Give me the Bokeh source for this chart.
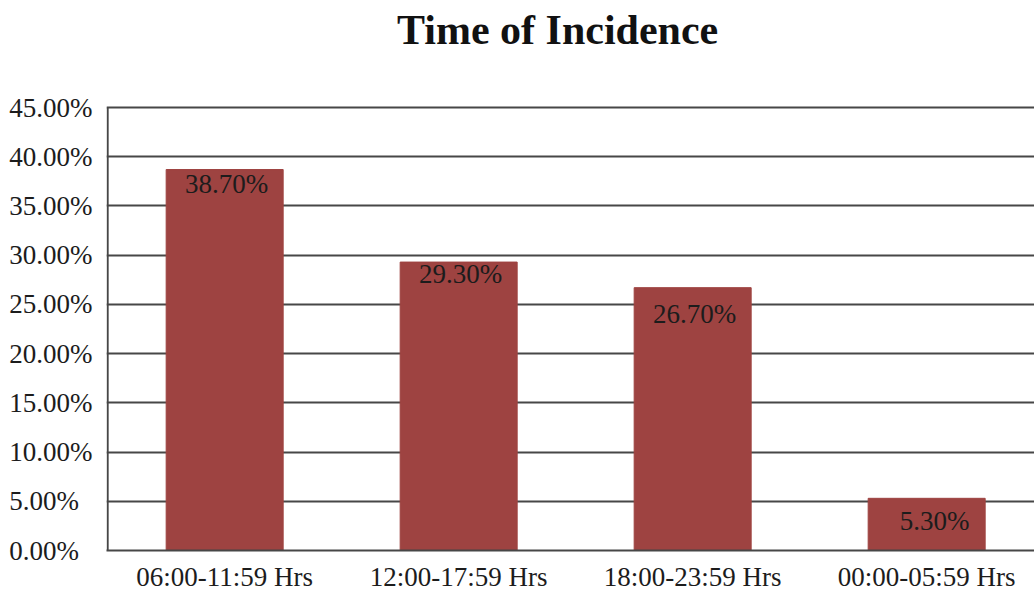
from bokeh.plotting import figure
from bokeh.models import Range1d, FixedTicker, LabelSet, Label, ColumnDataSource
from bokeh.embed import file_html
from bokeh.resources import INLINE

# ---- data ----
categories = ["06:00-11:59 Hrs", "12:00-17:59 Hrs", "18:00-23:59 Hrs", "00:00-05:59 Hrs"]
values = [38.70, 29.30, 26.70, 5.30]
y_ticks = [0, 5, 10, 15, 20, 25, 30, 35, 40, 45]
title_text = "Time of Incidence"

# ---- style ----
label_dx = [2, 2, 2, 8]
label_dy = [1, 3, -11, -8]
FONT = "Liberation Serif"
FS = "27px"
BAR = "#9E4341"
GRID = "#474747"
TXT = "#1c1c1c"

X0 = -0.505
Y_TOP = 55.87          # extra room above the 45% line holds the title
TITLE_X, TITLE_Y = 1.423, 52.9

xs = list(range(len(categories)))
bar_src = ColumnDataSource(dict(
    x=xs, top=values,
    text=["%.2f%%" % v for v in values],
    dx=label_dx, dy=label_dy,
))

p = figure(width=1034, height=594, title=None,
           x_range=Range1d(X0, X0 + 928 / 234), y_range=Range1d(0, Y_TOP),
           output_backend="svg", toolbar_location=None,
           min_border_left=106, min_border_right=0,
           min_border_top=0, min_border_bottom=44)
p.outline_line_color = None
p.background_fill_color = "white"
p.border_fill_color = "white"

p.vbar(x="x", top="top", width=0.5, source=bar_src, fill_color=BAR, line_color=BAR)

# grid
p.xgrid.grid_line_color = None
p.ygrid.grid_line_color = GRID
p.ygrid.grid_line_width = 2

# y axis (labels padded with figure spaces so they look left-aligned)
widest = max(len("%.2f%%" % t) for t in y_ticks)
p.yaxis.ticker = FixedTicker(ticks=y_ticks)
p.yaxis.major_label_overrides = {
    t: ("%.2f%%" % t) + "\u2007" * (widest - len("%.2f%%" % t)) for t in y_ticks
}
p.yaxis.major_label_text_font = FONT
p.yaxis.major_label_text_font_size = FS
p.yaxis.major_label_text_color = TXT
p.yaxis.major_label_standoff = 14
p.yaxis.major_tick_line_color = None
p.yaxis.major_tick_out = 0
p.yaxis.major_tick_in = 0
p.yaxis.minor_tick_line_color = None
p.yaxis.axis_line_color = None
# visible left axis line only spans the value range
p.segment(x0=[X0 + 0.005], y0=[y_ticks[0]], x1=[X0 + 0.005], y1=[y_ticks[-1]],
          line_color=GRID, line_width=2)

# x axis
p.xaxis.ticker = FixedTicker(ticks=xs)
p.xaxis.major_label_overrides = {i: c for i, c in zip(xs, categories)}
p.xaxis.major_label_text_font = FONT
p.xaxis.major_label_text_font_size = FS
p.xaxis.major_label_text_color = TXT
p.xaxis.major_label_standoff = 11
p.xaxis.major_tick_line_color = None
p.xaxis.major_tick_out = 0
p.xaxis.major_tick_in = 0
p.xaxis.minor_tick_line_color = None
p.xaxis.axis_line_color = GRID
p.xaxis.axis_line_width = 2

# bar value labels
p.add_layout(LabelSet(x="x", y="top", text="text", source=bar_src,
                      x_offset="dx", y_offset="dy",
                      text_font=FONT, text_font_size=FS, text_color=TXT,
                      text_align="center", text_baseline="top"))

# title
p.add_layout(Label(x=TITLE_X, y=TITLE_Y, text=title_text,
                   text_font=FONT, text_font_size="42px", text_font_style="bold",
                   text_color="#111111", text_align="center", text_baseline="alphabetic"))

open("out.html", "w").write(file_html(p, INLINE))
